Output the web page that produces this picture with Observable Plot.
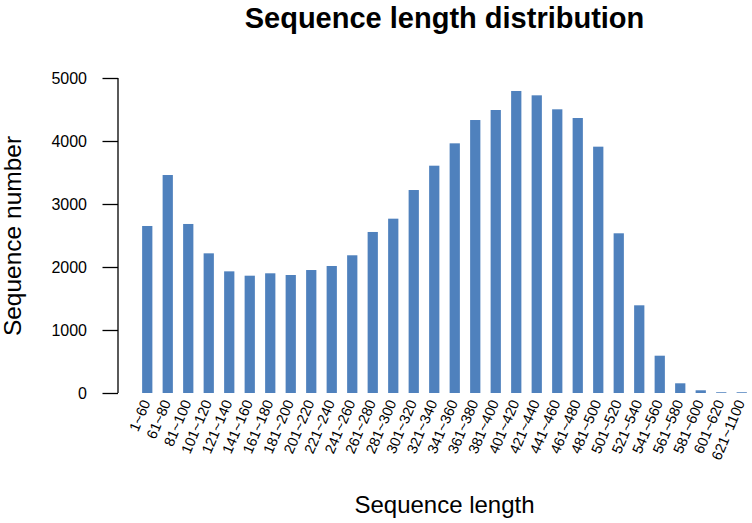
<!DOCTYPE html>
<html><head><meta charset="utf-8">
<script src="https://cdn.jsdelivr.net/npm/d3@7"></script>
<script src="https://cdn.jsdelivr.net/npm/@observablehq/plot@0.6"></script>
<style>
body{margin:0;background:#fff}
svg{font-family:"Liberation Sans",Arial,Helvetica,sans-serif}
</style>
</head><body><div id="chart"></div>
<script>
const categories = ["1~60","61~80","81~100","101~120","121~140","141~160","161~180","181~200","201~220","221~240","241~260","261~280","281~300","301~320","321~340","341~360","361~380","381~400","401~420","421~440","441~460","461~480","481~500","501~520","521~540","541~560","561~580","581~600","601~620","621~1100"];
const counts = [2651,3460,2683,2217,1931,1862,1900,1873,1952,2016,2186,2556,2767,3222,3608,3963,4333,4492,4794,4725,4503,4365,3910,2535,1392,592,154,43,12,12];
const yTicks = [0,1000,2000,3000,4000,5000];
const titleText = ["Sequence length distribution"];
const xLabel = ["Sequence length"];
const yLabel = ["Sequence number"];

const data = categories.map((c, i) => ({range: c, count: counts[i]}));

// y axis spine drawn at the left edge of the frame, using the y scale
function yAxisLine(index, scales, values, dimensions) {
  const y = scales.y;
  const line = d3.create("svg:line")
    .attr("x1", dimensions.marginLeft).attr("x2", dimensions.marginLeft)
    .attr("y1", y(yTicks[0])).attr("y2", y(yTicks[yTicks.length - 1]))
    .attr("stroke", "black").attr("stroke-width", 1.3);
  return line.node();
}

const chart = Plot.plot({
  width: 752, height: 523,
  marginLeft: 118, marginRight: 0, marginTop: 78, marginBottom: 130,
  style: {fontFamily: '"Liberation Sans",Arial,Helvetica,sans-serif', background: "white", color: "black", overflow: "visible"},
  x: {type: "band", domain: categories, range: [137, 752], paddingInner: 0.5, paddingOuter: 0.25, round: false, axis: null},
  y: {domain: [0, 5000], axis: null},
  marks: [
    Plot.barY(data, {x: "range", y: "count", fill: "#4F81BD"}),
    Plot.axisY({ticks: yTicks, tickSize: 15.5, tickPadding: 16, fontSize: 16, tickFormat: "d", label: null, strokeWidth: 1.3}),
    yAxisLine,
    Plot.text(categories, {x: d => d, text: d => d, frameAnchor: "bottom", rotate: -67, textAnchor: "end", fontSize: 14.5, dy: 9, dx: 3}),
    Plot.text(titleText, {frameAnchor: "top", dx: 9, dy: -51, lineAnchor: "bottom", fontSize: 29, fontWeight: "bold"}),
    Plot.text(xLabel, {frameAnchor: "bottom", dx: 9, dy: 119, lineAnchor: "bottom", fontSize: 24}),
    Plot.text(yLabel, {frameAnchor: "left", dx: -115, rotate: -90, textAnchor: "middle", lineAnchor: "top", fontSize: 24.5})
  ]
});
document.getElementById("chart").appendChild(chart);
</script>
</body></html>
